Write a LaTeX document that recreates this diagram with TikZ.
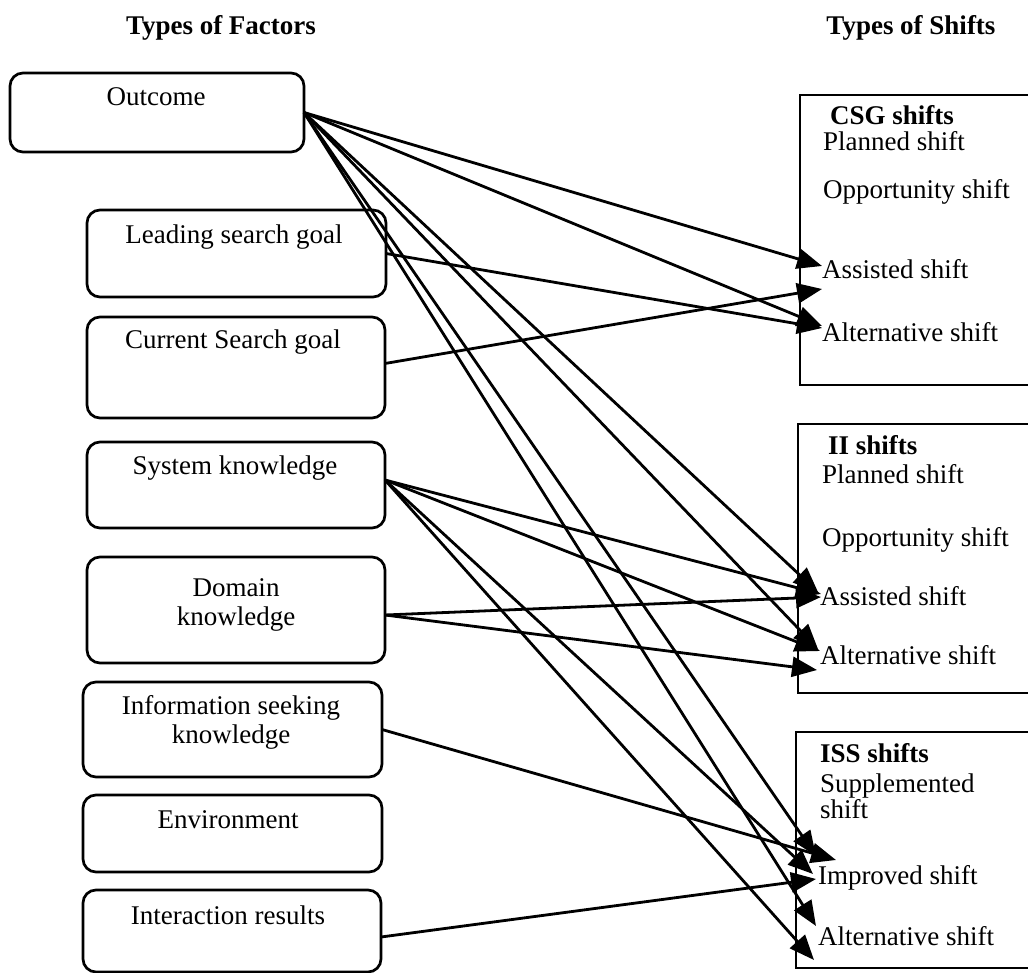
\documentclass[tikz,border=0pt]{standalone}
\usepackage{fontspec}
\setmainfont{Liberation Serif}
\usetikzlibrary{arrows.meta}
\begin{document}
\begin{tikzpicture}[x=1pt,y=-1pt,
  every node/.style={inner sep=0pt, outer sep=0pt},
  txt/.style={font=\fontsize{27}{29}\selectfont},
  head/.style={font=\fontsize{27}{29}\selectfont\bfseries},
  factor/.style={draw, line width=2.7pt, rounded corners=13pt},
  shiftbox/.style={draw, line width=2.7pt},
  arr/.style={line width=2.8pt, -{Triangle[length=25pt,width=20pt]}}]
\useasboundingbox (0,0) rectangle (1028,973);

% column titles
\node[head, anchor=base] (tfac) at (221,35) {Types of Factors};
\node[head, anchor=base] (tshift) at (911,35) {Types of Shifts};

% factor boxes
\node[factor, minimum width=294pt, minimum height=79pt]  (outcome)     at (157,112.5) {};
\node[factor, minimum width=299pt, minimum height=87pt]  (leading)     at (236.5,253.5) {};
\node[factor, minimum width=298pt, minimum height=101pt] (current)     at (236,367.5) {};
\node[factor, minimum width=298pt, minimum height=86pt]  (system)      at (236,485) {};
\node[factor, minimum width=298pt, minimum height=106pt] (domain)      at (236,610) {};
\node[factor, minimum width=299pt, minimum height=95pt]  (info)        at (232.5,729.5) {};
\node[factor, minimum width=299pt, minimum height=77pt]  (environment) at (232.5,833.5) {};
\node[factor, minimum width=298pt, minimum height=82pt]  (interaction) at (232,931) {};

% factor labels
\node[txt, anchor=base] (outcome-t) at (156,106) {Outcome};
\node[txt, anchor=base] (leading-t) at (234,244) {Leading search goal};
\node[txt, anchor=base] (current-t) at (233,349) {Current Search goal};
\node[txt, anchor=base] (system-t)  at (235,474) {System knowledge};
\node[txt, anchor=north, align=center] (domain-t) at (236,578.5) {Domain\\knowledge};
\node[txt, anchor=north, align=center] (info-t)   at (231,695) {Information seeking\\knowledge};
\node[txt, anchor=base] (environment-t) at (228,828) {Environment};
\node[txt, anchor=base] (interaction-t) at (228,924) {Interaction results};

% shift boxes (open to the right)
\node[shiftbox, minimum width=240pt, minimum height=290pt] (csg) at (920,240) {};
\node[shiftbox, minimum width=242pt, minimum height=269pt] (ii)  at (919,558.5) {};
\node[shiftbox, minimum width=244pt, minimum height=236pt] (iss) at (918,850) {};

% shift labels
\node[head, anchor=base west] (csg-h)   at (830,125) {CSG shifts};
\node[txt,  anchor=base west] (csg-pl)  at (823,151) {Planned shift};
\node[txt,  anchor=base west] (csg-op)  at (823,199) {Opportunity shift};
\node[txt,  anchor=base west] (csg-as)  at (822,279) {Assisted shift};
\node[txt,  anchor=base west] (csg-al)  at (822,342) {Alternative shift};

\node[head, anchor=base west] (ii-h)    at (828,454) {II shifts};
\node[txt,  anchor=base west] (ii-pl)   at (822,483) {Planned shift};
\node[txt,  anchor=base west] (ii-op)   at (822,546) {Opportunity shift};
\node[txt,  anchor=base west] (ii-as)   at (820,605) {Assisted shift};
\node[txt,  anchor=base west] (ii-al)   at (820,664) {Alternative shift};

\node[head, anchor=base west] (iss-h)   at (820,762) {ISS shifts};
\node[txt,  anchor=north west, align=left, font=\fontsize{27}{26}\selectfont] (iss-su) at (820,774) {Supplemented\\shift};
\node[txt,  anchor=base west] (iss-im)  at (818,884) {Improved shift};
\node[txt,  anchor=base west] (iss-al)  at (818,945) {Alternative shift};

% arrow tips at the shift entries
\coordinate (csgAsO) at (822,266);
\coordinate (csgAsC) at (822,289);
\coordinate (csgAlO) at (822,326);
\coordinate (csgAlL) at (822,328);
\coordinate (iiAsO)  at (818,592);
\coordinate (iiAsS)  at (821,594);
\coordinate (iiAsD)  at (821,597);
\coordinate (iiAlO)  at (818,649);
\coordinate (iiAlS)  at (820,651);
\coordinate (iiAlD)  at (817,670);
\coordinate (issImO) at (816,856);
\coordinate (issImI) at (836,860);
\coordinate (issImS) at (813,874);
\coordinate (issImR) at (816,879);
\coordinate (issAlO) at (816,926);
\coordinate (issAlS) at (814,960);

% Outcome
\draw[arr] (outcome.east) -- (csgAsO);
\draw[arr] (outcome.east) -- (csgAlO);
\draw[arr] (outcome.east) -- (iiAsO);
\draw[arr] (outcome.east) -- (iiAlO);
\draw[arr] (outcome.east) -- (issImO);
\draw[arr] (outcome.east) -- (issAlO);
% search goals
\draw[arr] (leading.east) -- (csgAlL);
\draw[arr] ([yshift=4pt]current.east) -- (csgAsC);
% system knowledge
\draw[arr] ([yshift=5pt]system.east) -- (iiAsS);
\draw[arr] ([yshift=5pt]system.east) -- (iiAlS);
\draw[arr] ([yshift=5pt]system.east) -- (issImS);
\draw[arr] ([yshift=5pt]system.east) -- (issAlS);
% domain knowledge
\draw[arr] ([yshift=-5pt]domain.east) -- (iiAsD);
\draw[arr] ([yshift=-5pt]domain.east) -- (iiAlD);
% information seeking knowledge and interaction results
\draw[arr] (info.east) -- (issImI);
\draw[arr] ([yshift=-6pt]interaction.east) -- (issImR);
\end{tikzpicture}
\end{document}
